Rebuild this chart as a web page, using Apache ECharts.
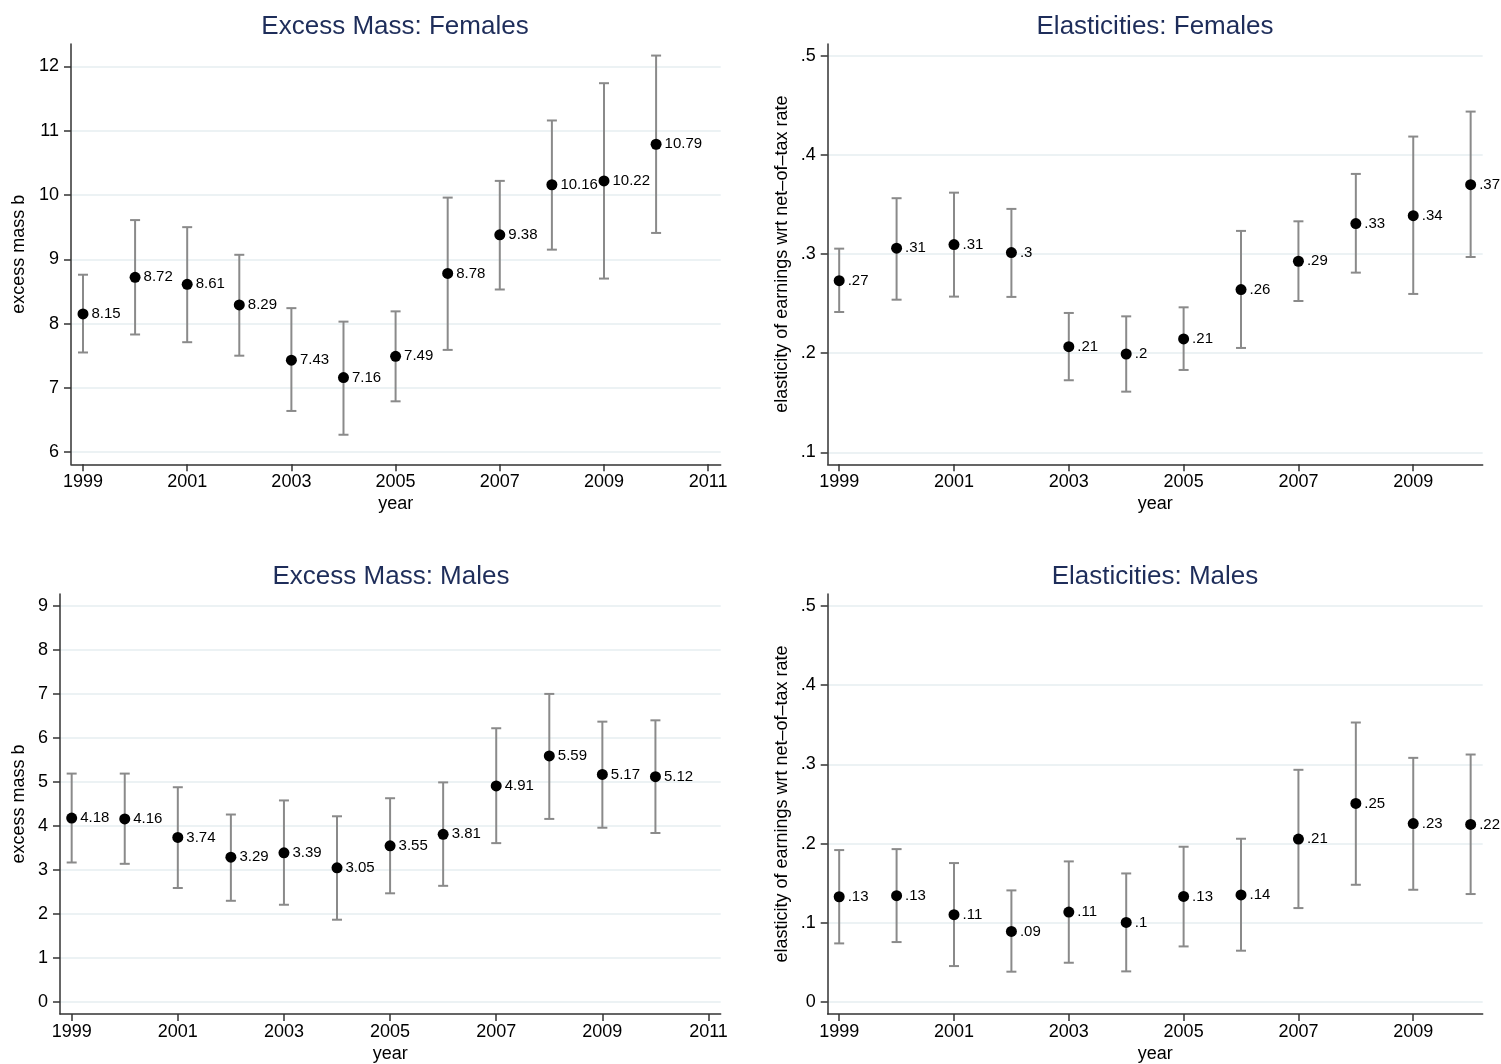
<!DOCTYPE html>
<html>
<head>
<meta charset="utf-8">
<script src="https://cdn.jsdelivr.net/npm/echarts@6/dist/echarts.min.js"></script>
<style>
  html, body { margin: 0; padding: 0; background: #fff; }
  #chart { width: 1501px; height: 1064px; }
</style>
</head>
<body>
<div id="chart"></div>
<script>
// ---------- data ----------
const years = [1999, 2000, 2001, 2002, 2003, 2004, 2005, 2006, 2007, 2008, 2009, 2010];

const femMass   = [8.15, 8.72, 8.61, 8.29, 7.43, 7.16, 7.49, 8.78, 9.38, 10.16, 10.22, 10.79];
const femMassLo = [7.55, 7.83, 7.71, 7.50, 6.64, 6.27, 6.79, 7.59, 8.53, 9.15, 8.70, 9.41];
const femMassHi = [8.76, 9.61, 9.50, 9.07, 8.24, 8.03, 8.19, 9.96, 10.22, 11.16, 11.74, 12.17];

const femElas   = [0.2732, 0.306, 0.3096, 0.3015, 0.2066, 0.1992, 0.2144, 0.2642, 0.2928, 0.3308, 0.3388, 0.3701];
const femElasLo = [0.2416, 0.254, 0.2571, 0.2568, 0.1727, 0.1612, 0.1831, 0.2053, 0.2527, 0.2813, 0.2598, 0.2971];
const femElasHi = [0.3055, 0.3564, 0.362, 0.3456, 0.2406, 0.2372, 0.2463, 0.3234, 0.3331, 0.3809, 0.4186, 0.4438];

const maleMass   = [4.18, 4.16, 3.74, 3.29, 3.39, 3.05, 3.55, 3.81, 4.91, 5.59, 5.17, 5.12];
const maleMassLo = [3.17, 3.14, 2.59, 2.30, 2.21, 1.87, 2.47, 2.64, 3.61, 4.16, 3.96, 3.84];
const maleMassHi = [5.19, 5.19, 4.88, 4.26, 4.58, 4.22, 4.63, 4.99, 6.22, 7.00, 6.37, 6.40];

const maleElas   = [0.1329, 0.1342, 0.1102, 0.0891, 0.1135, 0.1005, 0.1333, 0.1352, 0.2057, 0.2506, 0.2252, 0.2242];
const maleElasLo = [0.074, 0.0757, 0.0454, 0.0383, 0.0496, 0.0387, 0.0702, 0.0648, 0.1186, 0.148, 0.1417, 0.1363];
const maleElasHi = [0.1918, 0.193, 0.1754, 0.1409, 0.1775, 0.1623, 0.196, 0.2061, 0.2931, 0.3528, 0.3082, 0.3124];

const femMassTicks  = [6, 7, 8, 9, 10, 11, 12];
const maleMassTicks = [0, 1, 2, 3, 4, 5, 6, 7, 8, 9];
const femElasTicks  = [0.1, 0.2, 0.3, 0.4, 0.5];
const maleElasTicks = [0, 0.1, 0.2, 0.3, 0.4, 0.5];
const yearTicksMass = [1999, 2001, 2003, 2005, 2007, 2009, 2011];
const yearTicksElas = [1999, 2001, 2003, 2005, 2007, 2009];

const titles = ['Excess Mass: Females', 'Elasticities: Females', 'Excess Mass: Males', 'Elasticities: Males'];
const massName = 'excess mass b';
const elasName = 'elasticity of earnings wrt net\u2013of\u2013tax rate';
const xName = 'year';

// ---------- helpers ----------
const FONT = "'Liberation Sans', Arial, Helvetica, sans-serif";
const fmtMass = v => String(Number(v.toFixed(2)));
const fmtElas = v => {
  const s = String(Number(v.toFixed(2)));
  return s === '0' ? '0' : s.replace(/^0\./, '.').replace(/^-0\./, '-.');
};

function makeX(idx, min, max, ticks) {
  return {
    type: 'value', gridIndex: idx, min: min, max: max,
    name: xName, nameLocation: 'middle', nameGap: 31,
    nameTextStyle: { fontFamily: FONT, fontSize: 18, color: '#000' },
    axisLine: { show: true, onZero: false, lineStyle: { color: '#333', width: 1.5 } },
    axisTick: { show: true, customValues: ticks, length: 7, inside: false, lineStyle: { color: '#333', width: 1.5 } },
    axisLabel: { show: true, customValues: ticks, margin: 9, fontFamily: FONT, fontSize: 18, color: '#000',
                 formatter: v => String(v) },
    splitLine: { show: false }
  };
}
function makeY(idx, min, max, ticks, name, gap, fmt) {
  return {
    type: 'value', gridIndex: idx, min: min, max: max,
    name: name, nameLocation: 'middle', nameGap: gap, nameRotate: 90,
    nameTextStyle: { fontFamily: FONT, fontSize: 18, color: '#000' },
    axisLine: { show: true, onZero: false, lineStyle: { color: '#333', width: 1.5 } },
    axisTick: { show: true, customValues: ticks, length: 7, inside: false, lineStyle: { color: '#333', width: 1.5 } },
    axisLabel: { show: true, customValues: ticks, margin: 12, fontFamily: FONT, fontSize: 18, color: '#000',
                 formatter: v => fmt(v) },
    splitLine: { show: true, customValues: ticks, lineStyle: { color: '#e6eef1', width: 1.5 } }
  };
}
function errSeries(idx, lo, hi) {
  return {
    type: 'custom', xAxisIndex: idx, yAxisIndex: idx, z: 2,
    data: years.map((y, i) => [y, lo[i], hi[i]]),
    encode: { x: 0, y: [1, 2] },
    renderItem: function (params, api) {
      const x = api.value(0);
      const pLo = api.coord([x, api.value(1)]);
      const pHi = api.coord([x, api.value(2)]);
      const hw = 5;
      const st = { stroke: '#8a8a8a', lineWidth: 2 };
      return {
        type: 'group',
        children: [
          { type: 'line', shape: { x1: pLo[0], y1: pLo[1], x2: pHi[0], y2: pHi[1] }, style: st },
          { type: 'line', shape: { x1: pHi[0] - hw, y1: pHi[1], x2: pHi[0] + hw, y2: pHi[1] }, style: st },
          { type: 'line', shape: { x1: pLo[0] - hw, y1: pLo[1], x2: pLo[0] + hw, y2: pLo[1] }, style: st }
        ]
      };
    }
  };
}
function ptSeries(idx, vals, fmt) {
  return {
    type: 'scatter', xAxisIndex: idx, yAxisIndex: idx, z: 5,
    symbol: 'circle', symbolSize: 11,
    itemStyle: { color: '#000', opacity: 1 },
    data: years.map((y, i) => [y, vals[i]]),
    label: {
      show: true, position: 'right', distance: 3,
      fontFamily: FONT, fontSize: 15, color: '#000',
      formatter: p => fmt(p.value[1])
    },
    emphasis: { disabled: true }
  };
}

const chart = echarts.init(document.getElementById('chart'), null, { renderer: 'canvas' });
const titleStyle = { fontFamily: FONT, fontSize: 26, fontWeight: 'normal', color: '#1e2d5a' };

chart.setOption({
  backgroundColor: '#fff',
  animation: false,
  title: [
    { text: titles[0], left: 390, top: 9, textAlign: 'center', textStyle: titleStyle },
    { text: titles[1], left: 1150, top: 9, textAlign: 'center', textStyle: titleStyle },
    { text: titles[2], left: 386, top: 559, textAlign: 'center', textStyle: titleStyle },
    { text: titles[3], left: 1150, top: 559, textAlign: 'center', textStyle: titleStyle }
  ],
  grid: [
    { left: 71,    top: 44,  width: 649.7, height: 420.3 },
    { left: 827.7, top: 44,  width: 655,   height: 420.3 },
    { left: 60,    top: 594, width: 660.7, height: 420.3 },
    { left: 827.7, top: 594, width: 655,   height: 420.3 }
  ],
  xAxis: [
    makeX(0, 1998.77, 2011.24, yearTicksMass),
    makeX(1, 1998.80, 2010.21, yearTicksElas),
    makeX(2, 1998.78, 2011.23, yearTicksMass),
    makeX(3, 1998.80, 2010.21, yearTicksElas)
  ],
  yAxis: [
    makeY(0, 5.81, 12.35, femMassTicks, massName, 43, fmtMass),
    makeY(1, 0.0879, 0.512, femElasTicks, elasName, 37, fmtElas),
    makeY(2, -0.272, 9.27, maleMassTicks, massName, 32, fmtMass),
    makeY(3, -0.0151, 0.515, maleElasTicks, elasName, 37, fmtElas)
  ],
  series: [
    errSeries(0, femMassLo, femMassHi),   ptSeries(0, femMass, fmtMass),
    errSeries(1, femElasLo, femElasHi),   ptSeries(1, femElas, fmtElas),
    errSeries(2, maleMassLo, maleMassHi), ptSeries(2, maleMass, fmtMass),
    errSeries(3, maleElasLo, maleElasHi), ptSeries(3, maleElas, fmtElas)
  ]
});
</script>
</body>
</html>
